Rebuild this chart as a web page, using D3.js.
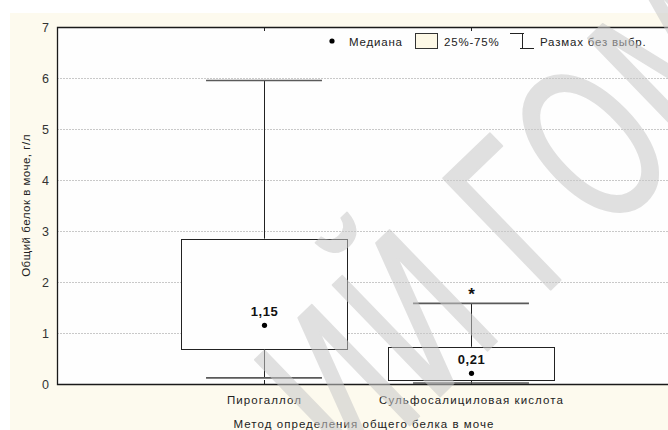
<!DOCTYPE html>
<html>
<head>
<meta charset="utf-8">
<script src="https://cdn.jsdelivr.net/npm/d3@7"></script>
<style>
  html, body { margin: 0; padding: 0; background: #ffffff; }
  svg { display: block; font-family: "Liberation Sans", Arial, sans-serif; }
</style>
</head>
<body>
<svg id="chart" width="668" height="430"></svg>
<script>
// Box-and-whisker summary: total urinary protein by determination method
const categories = ["Пирогаллол", "Сульфосалициловая кислота"];
const medians = [1.15, 0.21];
const quartileLow = [0.70, 0.09];
const quartileHigh = [2.85, 0.73];
const rangeLow = [0.12, 0.02];
const rangeHigh = [5.95, 1.58];
const significance = ["", "*"];
const yTicks = [0, 1, 2, 3, 4, 5, 6, 7];
const legendItems = ["Медиана", "25%-75%", "Размах без выбр."];
const yTitle = "Общий белок в моче, г/л";
const xTitle = "Метод определения общего белка в моче";
const watermarkText = "ИЙ ГОМ";

const svg = d3.select("#chart");
const W = 668, H = 430;

// outer panel
svg.append("rect").attr("x", 10).attr("y", 13).attr("width", W - 10).attr("height", H - 13)
  .attr("fill", "#fdfaee");

const plot = { left: 57, top: 27, right: 678, bottom: 384 };

const x = d3.scaleLinear().domain([0, categories.length + 1]).range([plot.left, plot.right]);
const y = d3.scaleLinear().domain([0, 7]).range([plot.bottom, plot.top]);
const unit = x(1) - x(0);

const ruLocale = d3.formatLocale({ decimal: ",", thousands: " ", grouping: [3], currency: ["", ""] });
const fmt = ruLocale.format(".2f");

// plot background
svg.append("rect").attr("x", plot.left).attr("y", plot.top)
  .attr("width", plot.right - plot.left).attr("height", plot.bottom - plot.top)
  .attr("fill", "#fefefe");

// horizontal grid
svg.append("g").selectAll("line").data(yTicks.filter(t => t > 0 && t < 7)).join("line")
  .attr("x1", plot.left).attr("x2", plot.right)
  .attr("y1", d => y(d) + 0.5).attr("y2", d => y(d) + 0.5)
  .attr("stroke", "#c9c9c9").attr("stroke-width", 1).attr("stroke-dasharray", "2,1");

// y axis labels
const yAxis = d3.axisLeft(y).tickValues(yTicks).tickSize(0).tickPadding(8).tickFormat(d3.format("d"));
const yg = svg.append("g").attr("transform", `translate(${plot.left},0)`).call(yAxis);
yg.select(".domain").remove();
yg.selectAll("text").attr("font-size", 12.5).attr("fill", "#333")
  .attr("font-family", "'Liberation Sans', Arial, sans-serif");

// x axis labels
const idx = categories.map((c, i) => i + 1);
const xAxis = d3.axisBottom(x).tickValues(idx).tickSize(0).tickPadding(12)
  .tickFormat((d) => categories[d - 1]);
const xg = svg.append("g").attr("transform", `translate(0,${plot.bottom})`).call(xAxis);
xg.select(".domain").remove();
xg.selectAll("text").attr("font-size", 11.5).attr("fill", "#222").attr("letter-spacing", 1.1)
  .attr("font-family", "'Liberation Sans', Arial, sans-serif");

// category ticks (inside, top and bottom)
const ticks = svg.append("g").attr("stroke", "#222").attr("stroke-width", 1);
ticks.selectAll("line.b").data(idx).join("line").attr("class", "b")
  .attr("x1", d => Math.round(x(d)) + 0.5).attr("x2", d => Math.round(x(d)) + 0.5)
  .attr("y1", plot.bottom).attr("y2", plot.bottom - 4);
ticks.selectAll("line.t").data(idx).join("line").attr("class", "t")
  .attr("x1", d => Math.round(x(d)) + 0.5).attr("x2", d => Math.round(x(d)) + 0.5)
  .attr("y1", plot.top).attr("y2", plot.top + 4);

// boxes
const boxes = svg.append("g").selectAll("g").data(categories.map((c, i) => i)).join("g");
boxes.append("line")
  .attr("x1", i => Math.round(x(i + 1)) + 0.5).attr("x2", i => Math.round(x(i + 1)) + 0.5)
  .attr("y1", i => y(rangeHigh[i])).attr("y2", i => y(quartileHigh[i]))
  .attr("stroke", "#222").attr("stroke-width", 1);
boxes.append("line")
  .attr("x1", i => Math.round(x(i + 1)) + 0.5).attr("x2", i => Math.round(x(i + 1)) + 0.5)
  .attr("y1", i => y(quartileLow[i])).attr("y2", i => y(rangeLow[i]))
  .attr("stroke", "#222").attr("stroke-width", 1);
boxes.append("rect")
  .attr("x", i => Math.round(x(i + 1 - 0.4)) + 0.5)
  .attr("y", i => Math.round(y(quartileHigh[i])) + 0.5)
  .attr("width", Math.round(unit * 0.8))
  .attr("height", i => Math.round(y(quartileLow[i]) - y(quartileHigh[i])))
  .attr("fill", "#fefefe").attr("stroke", "#222").attr("stroke-width", 1);
// whisker caps
[rangeHigh, rangeLow].forEach(arr => {
  boxes.append("line")
    .attr("x1", i => x(i + 1 - 0.28)).attr("x2", i => x(i + 1 + 0.28))
    .attr("y1", i => y(arr[i])).attr("y2", i => y(arr[i]))
    .attr("stroke", "#5a5a5a").attr("stroke-width", 1.6);
});
// medians
boxes.append("circle")
  .attr("cx", i => x(i + 1) + 0.5).attr("cy", i => y(medians[i]))
  .attr("r", 2.6).attr("fill", "#000");
boxes.append("text")
  .attr("x", i => x(i + 1) + 0.5).attr("y", i => y(medians[i]) - 9)
  .attr("text-anchor", "middle").attr("font-size", 13).attr("font-weight", "bold")
  .attr("letter-spacing", 0.5).attr("fill", "#111")
  .text(i => fmt(medians[i]));
boxes.append("text")
  .attr("x", i => x(i + 1) + 0.5).attr("y", i => y(rangeHigh[i]) - 3)
  .attr("text-anchor", "middle").attr("font-size", 17).attr("font-weight", "bold")
  .attr("fill", "#111")
  .text(i => significance[i]);

// frame: left, top, bottom
svg.append("path")
  .attr("d", `M${plot.right},${plot.top + 0.5}H${plot.left + 0.5}V${plot.bottom + 0.5}H${plot.right}`)
  .attr("fill", "none").attr("stroke", "#1a1a1a").attr("stroke-width", 1.3);

// axis titles
svg.append("text")
  .attr("transform", `translate(30,${(plot.top + plot.bottom) / 2}) rotate(-90)`)
  .attr("text-anchor", "middle").attr("font-size", 11.5).attr("fill", "#222").attr("letter-spacing", 0.5)
  .text(yTitle);
svg.append("text")
  .attr("x", 364).attr("y", 428)
  .attr("text-anchor", "middle").attr("font-size", 11.5).attr("fill", "#222").attr("letter-spacing", 1.05)
  .text(xTitle);

// legend
const lg = svg.append("g").attr("font-size", 11.5).attr("fill", "#222").attr("letter-spacing", 0.8);
lg.append("circle").attr("cx", 332).attr("cy", 41).attr("r", 2.6).attr("fill", "#000");
lg.append("text").attr("x", 349).attr("y", 46).text(legendItems[0]);
lg.append("rect").attr("x", 415.5).attr("y", 33.5).attr("width", 22).attr("height", 15)
  .attr("fill", "#fdf8e6").attr("stroke", "#333").attr("stroke-width", 1);
lg.append("text").attr("x", 444).attr("y", 46).text(legendItems[1]);
const wl = lg.append("g").attr("stroke", "#222").attr("stroke-width", 1);
wl.append("line").attr("x1", 510).attr("x2", 524).attr("y1", 33.5).attr("y2", 33.5);
wl.append("line").attr("x1", 522.5).attr("x2", 522.5).attr("y1", 33.5).attr("y2", 49);
wl.append("line").attr("x1", 520).attr("x2", 534).attr("y1", 48.5).attr("y2", 48.5);
lg.append("text").attr("x", 540).attr("y", 46).text(legendItems[2]);

// watermark overlay
const wm = svg.append("text")
  .attr("font-family", "'DejaVu Sans', sans-serif")
  .attr("font-size", 212)
  .attr("fill", "#c8c8c8").attr("stroke", "#c8c8c8").attr("stroke-width", 2)
  .attr("stroke-linejoin", "round").attr("opacity", 0.55)
  .text(watermarkText);
const gOffset = wm.node().getSubStringLength(0, 3);
wm.attr("x", -gOffset - 20).attr("y", 0)
  .attr("transform", "translate(550,290) rotate(-44) scale(0.68,1)");
</script>
</body>
</html>
